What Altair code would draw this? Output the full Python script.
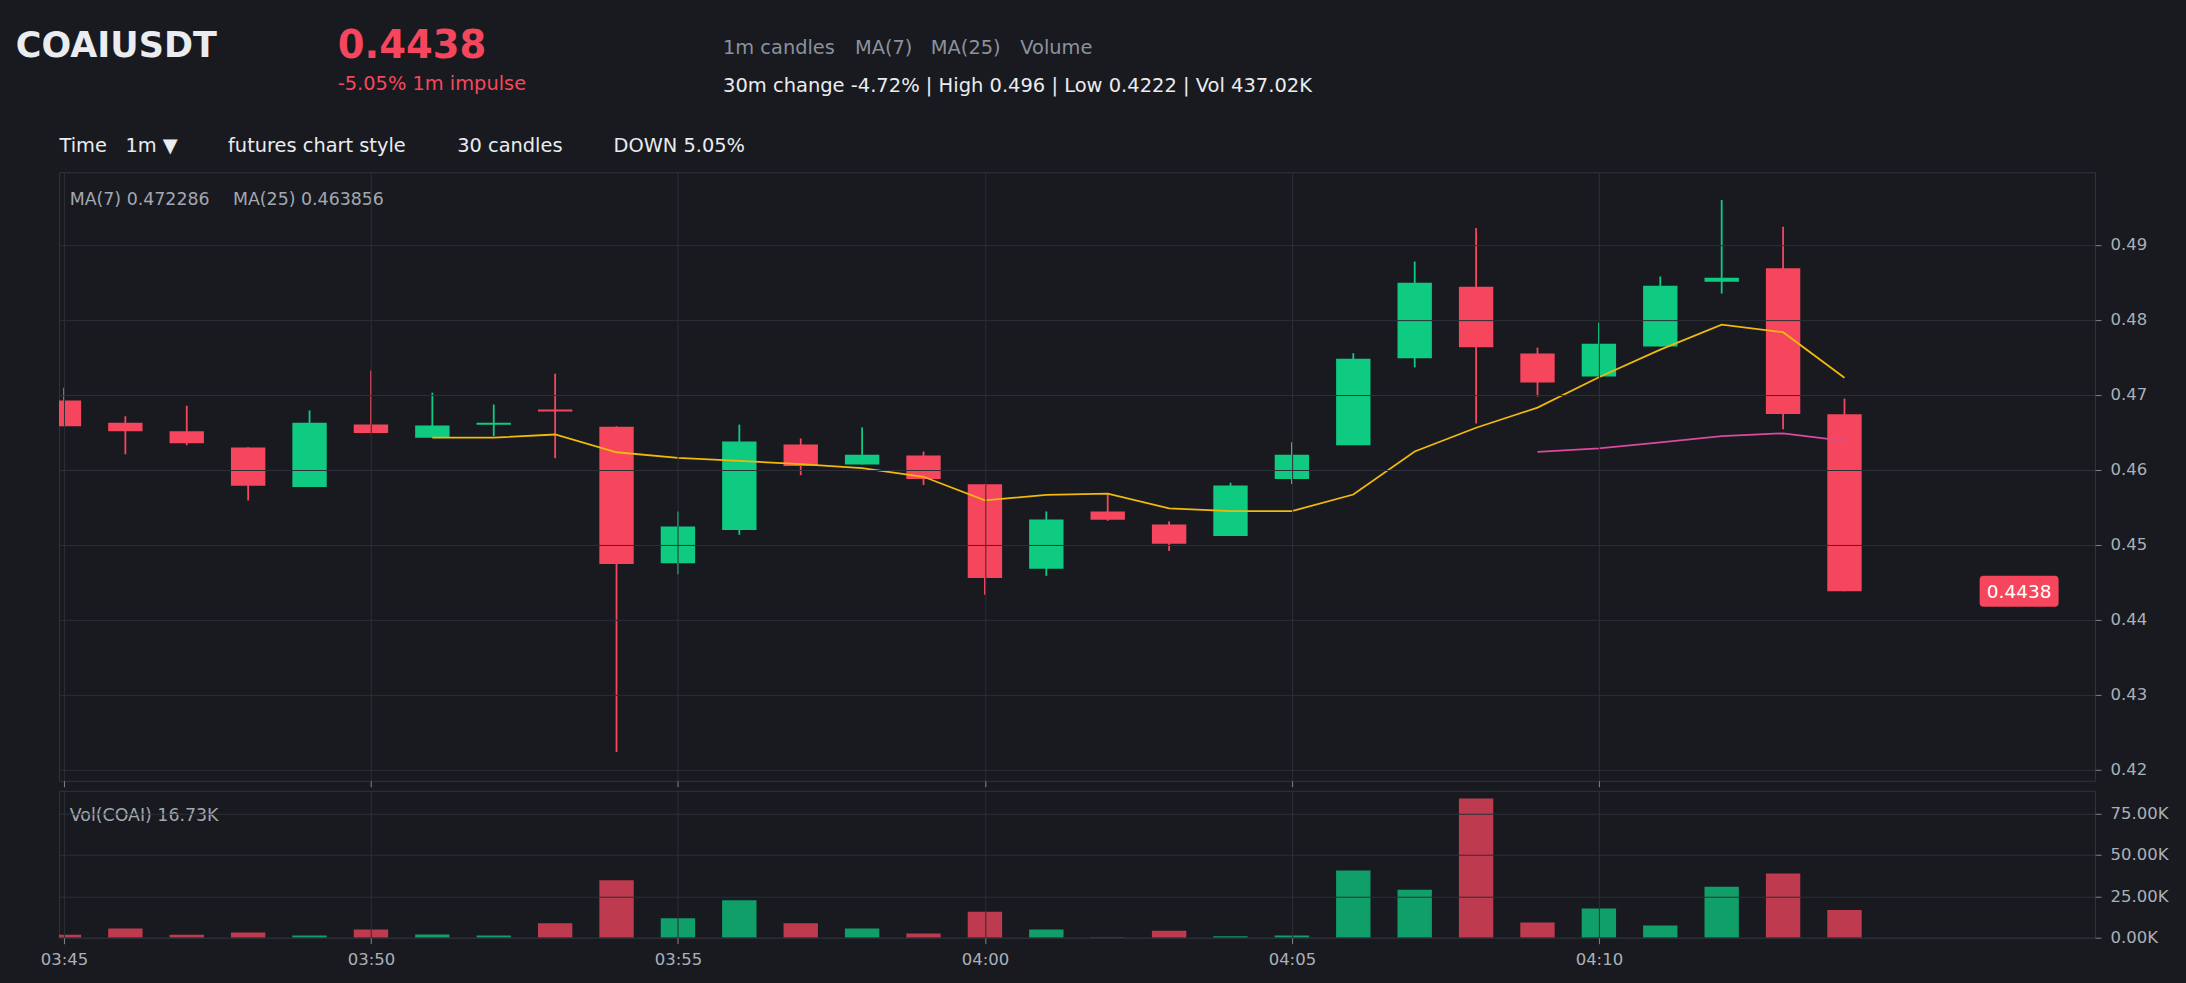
import altair as alt
import pandas as pd

# ---------------- data ----------------
SYMBOL = "COAIUSDT"
LAST_PRICE_TEXT = "0.4438"
IMPULSE_TEXT = "-5.05% 1m impulse"
HEADER_TAGS = ["1m candles", "MA(7)", "MA(25)", "Volume"]
STATS_TEXT = "30m change -4.72% | High 0.496 | Low 0.4222 | Vol 437.02K"
TOOLBAR = ["Time", "1m \u25bc", "futures chart style", "30 candles", "DOWN 5.05%"]
MA_LEGEND = ["MA(7) 0.472286", "MA(25) 0.463856"]
VOL_LEGEND = "Vol(COAI) 16.73K"

times = ["03:45", "03:46", "03:47", "03:48", "03:49", "03:50", "03:51", "03:52", "03:53", "03:54",
         "03:55", "03:56", "03:57", "03:58", "03:59", "04:00", "04:01", "04:02", "04:03", "04:04",
         "04:05", "04:06", "04:07", "04:08", "04:09", "04:10", "04:11", "04:12", "04:13", "04:14"]
opens = [0.46924, 0.46629, 0.46513, 0.46297, 0.45770, 0.46603, 0.46429, 0.46600, 0.46806, 0.46576,
         0.44753, 0.45196, 0.46339, 0.46071, 0.46192, 0.45807, 0.44680, 0.45444, 0.45270, 0.45117,
         0.45876, 0.46329, 0.47488, 0.48442, 0.47551, 0.47246, 0.47646, 0.48510, 0.48689, 0.46740]
highs = [0.47093, 0.46713, 0.46856, 0.46300, 0.46792, 0.47325, 0.47029, 0.46871, 0.47282, 0.46580,
         0.45444, 0.46603, 0.46418, 0.46566, 0.46244, 0.45810, 0.45444, 0.45681, 0.45312, 0.45828,
         0.46366, 0.47556, 0.48779, 0.49227, 0.47630, 0.47962, 0.48579, 0.49601, 0.49242, 0.46950]
lows = [0.46580, 0.46208, 0.46329, 0.45591, 0.45770, 0.46490, 0.46429, 0.46450, 0.46155, 0.42235,
        0.44606, 0.45133, 0.45928, 0.46071, 0.45797, 0.44332, 0.44585, 0.45320, 0.44917, 0.45117,
        0.45812, 0.46329, 0.47367, 0.46619, 0.46977, 0.47246, 0.47646, 0.48352, 0.46540, 0.44380]
closes = [0.46582, 0.46513, 0.46355, 0.45786, 0.46629, 0.46492, 0.46592, 0.46627, 0.46779, 0.44743,
          0.45243, 0.46376, 0.46050, 0.46202, 0.45876, 0.44558, 0.45338, 0.45333, 0.45012, 0.45791,
          0.46202, 0.47483, 0.48494, 0.47635, 0.47166, 0.47683, 0.48457, 0.48563, 0.46745, 0.44380]
volumes_k = [1.8, 5.6, 1.8, 3.2, 1.4, 5.0, 2.0, 1.4, 8.7, 34.7,
             11.7, 22.6, 8.7, 5.6, 2.6, 15.7, 5.0, 0.3, 4.2, 0.8,
             1.4, 40.5, 29.0, 84.1, 9.1, 17.7, 7.3, 30.8, 38.7, 16.73]

ma7_times = times[6:]
ma7_values = [0.46429, 0.46429, 0.46471, 0.46234, 0.46160, 0.46118, 0.46076, 0.46023, 0.45907, 0.45591,
              0.45665, 0.45681, 0.45486, 0.45449, 0.45449, 0.45670, 0.46244, 0.46561, 0.46829, 0.47235,
              0.47604, 0.47936, 0.47836, 0.47229]
ma25_times = times[24:]
ma25_values = [0.46239, 0.46287, 0.46366, 0.46450, 0.46487, 0.46386]

price_ticks = [0.42, 0.43, 0.44, 0.45, 0.46, 0.47, 0.48, 0.49]
price_domain = [0.41851, 0.49970]
vol_ticks = [0, 25, 50, 75]
vol_domain = [0, 88.7]
x_tick_labels = ["03:45", "03:50", "03:55", "04:00", "04:05", "04:10"]
x_domain = ["03:45", "04:18"]
LAST_PRICE = closes[-1]

# ---------------- style ----------------
BG = "#181a20"
UP = "#0ecb81"
DOWN = "#f6465d"
FONT = "DejaVu Sans"
GRID = "#2c2f37"
FRAME = "#30343c"
LABEL = "#aab0b8"
TICK = "#80858e"
WHITE = "#eaecef"
GRAY = "#8b929c"
LEG = "#a3a8b0"
MA7_COLOR = "#f0b90b"
MA25_COLOR = "#dc4a9c"

W = 2037.5
H_PRICE = 609
H_VOL = 147


def iso(t):
    return "2024-01-01T" + t + ":00"


def dt(t):
    h, m = t.split(":")
    return alt.DateTime(year=2024, month=1, date=1, hours=int(h), minutes=int(m))


df = pd.DataFrame({
    "t": [iso(t) for t in times],
    "open": opens, "high": highs, "low": lows, "close": closes, "vol": volumes_k,
})
df["dir"] = ["up" if c >= o else "down" for o, c in zip(opens, closes)]
ma7_df = pd.DataFrame({"t": [iso(t) for t in ma7_times], "v": ma7_values})
ma25_df = pd.DataFrame({"t": [iso(t) for t in ma25_times], "v": ma25_values})

xscale = alt.Scale(domain=[dt(x_domain[0]), dt(x_domain[1])], nice=False)
yscale = alt.Scale(domain=price_domain, nice=False, zero=False)
vscale = alt.Scale(domain=vol_domain, nice=False)
cscale = alt.Scale(domain=["up", "down"], range=[UP, DOWN])
tick_values = [dt(t) for t in x_tick_labels]

x_price_axis = alt.Axis(values=tick_values, labels=False, ticks=True, tickSize=6, tickColor=TICK,
                        grid=True, gridColor=GRID, domain=False, title=None, zindex=1)
x_vol_axis = alt.Axis(values=tick_values, format="%H:%M", labels=True, ticks=True, tickSize=6,
                      tickColor=TICK, grid=True, gridColor=GRID, domain=False, title=None,
                      labelFont=FONT, labelFontSize=16.5, labelColor=LABEL, labelPadding=8,
                      labelFlush=False, zindex=1)
y_price_axis = alt.Axis(orient="right", values=price_ticks, format=".2f", tickSize=6, tickColor=TICK,
                        grid=True, gridColor=GRID, domain=False, title=None, labelFont=FONT,
                        labelFontSize=16.5, labelColor=LABEL, labelPadding=9, zindex=1)
y_vol_axis = alt.Axis(orient="right", values=vol_ticks, labelExpr="format(datum.value, '.2f') + 'K'",
                      tickSize=6, tickColor=TICK, grid=True, gridColor=GRID, domain=False, title=None,
                      labelFont=FONT, labelFontSize=16.5, labelColor=LABEL, labelPadding=9, zindex=1)


def txt(s, x, y, size, color, weight="normal", align="left"):
    return alt.Chart(alt.Data(values=[{"s": s}])).mark_text(
        align=align, baseline="alphabetic", fontSize=size, font=FONT, fontWeight=weight, color=color
    ).encode(x=alt.value(x), y=alt.value(y), text="s:N")


def anchor(x, y):
    return alt.Chart(alt.Data(values=[{}])).mark_rule(color=BG, strokeWidth=1).encode(
        x=alt.value(x), x2=alt.value(x + 0.5), y=alt.value(y), y2=alt.value(y)
    )


base = alt.Chart(df)
wicks = base.mark_rule(strokeWidth=1.8, clip=True).encode(
    x=alt.X("t:T", scale=xscale, axis=x_price_axis),
    y=alt.Y("low:Q", scale=yscale, axis=y_price_axis),
    y2="high:Q",
    color=alt.Color("dir:N", scale=cscale, legend=None),
)
bodies = base.mark_bar(size=34.4, clip=True).encode(
    x=alt.X("t:T", scale=xscale),
    y=alt.Y("open:Q", scale=yscale),
    y2="close:Q",
    color=alt.Color("dir:N", scale=cscale, legend=None),
)
ma7 = alt.Chart(ma7_df).mark_line(color=MA7_COLOR, strokeWidth=1.8).encode(
    x=alt.X("t:T", scale=xscale), y=alt.Y("v:Q", scale=yscale))
ma25 = alt.Chart(ma25_df).mark_line(color=MA25_COLOR, strokeWidth=1.8).encode(
    x=alt.X("t:T", scale=xscale), y=alt.Y("v:Q", scale=yscale))

box_path = ("M -0.899 -0.392 L 0.899 -0.392 Q 1 -0.392 1 -0.291 L 1 0.291 Q 1 0.392 0.899 0.392 "
            "L -0.899 0.392 Q -1 0.392 -1 0.291 L -1 -0.291 Q -1 -0.392 -0.899 -0.392 Z")
price_box = alt.Chart(alt.Data(values=[{"p": LAST_PRICE, "s": LAST_PRICE_TEXT}])).mark_point(
    shape=box_path, filled=True, size=6241, color=DOWN, opacity=1, strokeWidth=0
).encode(x=alt.value(1961.5), y=alt.Y("p:Q", scale=yscale))
price_box_text = alt.Chart(alt.Data(values=[{"p": LAST_PRICE, "s": LAST_PRICE_TEXT}])).mark_text(
    align="center", baseline="middle", fontSize=18.5, font=FONT, color="#ffffff", dy=1
).encode(x=alt.value(1961.5), y=alt.Y("p:Q", scale=yscale), text="s:N")

header = [
    txt(SYMBOL, -43.2, -115, 35, WHITE, "bold"),
    txt(LAST_PRICE_TEXT, 279, -114, 38.5, DOWN, "bold"),
    txt(IMPULSE_TEXT, 279, -82, 19.4, DOWN),
    txt(HEADER_TAGS[0], 664.5, -118, 19.4, GRAY),
    txt(HEADER_TAGS[1], 796.5, -118, 19.4, GRAY),
    txt(HEADER_TAGS[2], 872.5, -118, 19.4, GRAY),
    txt(HEADER_TAGS[3], 962, -118, 19.4, GRAY),
    txt(STATS_TEXT, 664.5, -80.5, 19.5, WHITE),
    txt(TOOLBAR[0], 0.5, -20, 19.4, WHITE),
    txt(TOOLBAR[1], 66.5, -20, 19.4, WHITE),
    txt(TOOLBAR[2], 169.2, -20, 19.4, WHITE),
    txt(TOOLBAR[3], 398.5, -20, 19.4, WHITE),
    txt(TOOLBAR[4], 554.9, -20, 19.4, WHITE),
    txt(MA_LEGEND[0], 10.7, 33, 17.4, LEG),
    txt(MA_LEGEND[1], 174.1, 33, 17.4, LEG),
]

price_chart = alt.layer(
    wicks, bodies, ma7, ma25, price_box, price_box_text, *header,
    anchor(-58, -170.5), anchor(2126.5, -170.5), anchor(-58, 616.5),
).properties(width=W, height=H_PRICE)

vol_bars = base.mark_bar(size=34.4, clip=True, opacity=0.75).encode(
    x=alt.X("t:T", scale=xscale, axis=x_vol_axis),
    y=alt.Y("vol:Q", scale=vscale, axis=y_vol_axis),
    color=alt.Color("dir:N", scale=cscale, legend=None),
)
vol_chart = alt.layer(
    vol_bars,
    txt(VOL_LEGEND, 10.8, 30, 17.4, LEG),
    anchor(-58, 0), anchor(2126.5, 192.5),
).properties(width=W, height=H_VOL)

chart = alt.vconcat(price_chart, vol_chart, spacing=0).configure(
    background=BG, padding=0, font=FONT
).configure_view(stroke=FRAME, strokeWidth=1)

chart.save("out.html", embed_options={"renderer": "svg", "actions": False})
